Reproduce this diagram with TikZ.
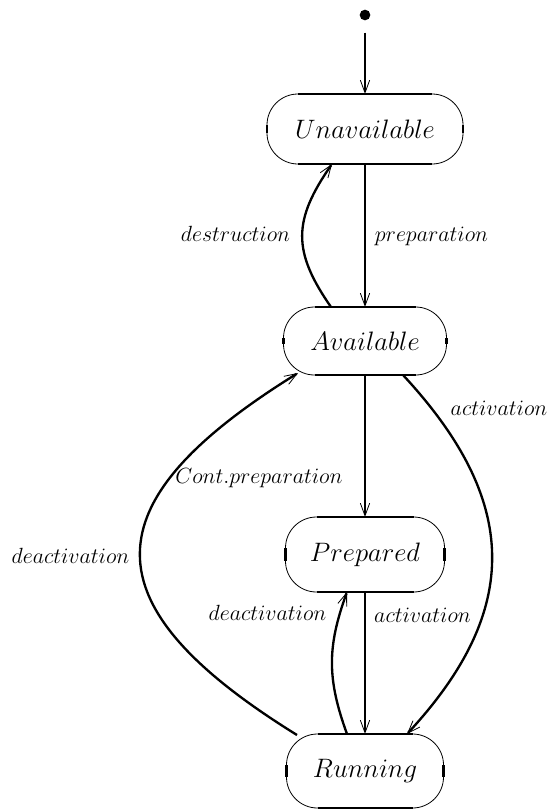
\RequirePackage{fix-cm}
\documentclass[tikz,border=0pt]{standalone}
\usetikzlibrary{arrows.meta,calc}
\begin{document}
\begin{tikzpicture}[x=0.75pt, y=-0.75pt,
  state/.style={draw, line width=0.6pt, rounded corners=23.25pt,
    inner sep=0pt, outer sep=0pt, font=\fontsize{20}{24}\selectfont},
  straightpart/.style={line width=2pt},
  edge/.style={line width=1.75pt,
    -{Straight Barb[length=9.5pt,width=7pt,line width=0.6pt]}},
  lbl/.style={anchor=base, inner sep=0pt, font=\fontsize{16.5}{20}\selectfont}]
\useasboundingbox (0,0) rectangle (552,810);

% initial pseudo-state
\node[circle, fill, inner sep=0pt, minimum size=8pt] (s) at (365,15) {};

% states
\node[state, minimum width=147pt,    minimum height=52.5pt]  (u) at (365,129)   {$Unavailable$};
\node[state, minimum width=122.25pt, minimum height=51pt]    (a) at (365,341)   {$Available$};
\node[state, minimum width=119.25pt, minimum height=56.25pt] (p) at (365,554.5) {$Prepared$};
\node[state, minimum width=117.75pt, minimum height=55.5pt]  (r) at (365,771)   {$Running$};

% heavier straight stretches of each state outline
\foreach \n in {u,a,p,r}{
  \draw[straightpart]
    ($(\n.north west)+(31,0)$) -- ($(\n.north east)+(-31,0)$)
    ($(\n.south west)+(31,0)$) -- ($(\n.south east)+(-31,0)$)
    ($(\n.north west)+(0,31)$) -- ($(\n.south west)+(0,-31)$)
    ($(\n.north east)+(0,31)$) -- ($(\n.south east)+(0,-31)$);
}

% transitions
\draw[edge, shorten <=9pt] (s) -- (u);
\draw[edge] (u) -- (a);
\draw[edge] ($(a.north)+(-34,0)$) .. controls +(-39,-56) and +(-39,56) .. ($(u.south)+(-33,0)$);
\draw[edge] (a) -- (p);
\draw[edge] ($(a.south)+(38,0)$) .. controls +(116,125) and +(116,-125) .. ($(r.north)+(42,0)$);
\draw[edge] ($(r.north)+(-68,1)$) .. controls +(-210,-130) and +(-210,130) .. ($(a.south)+(-67,-2)$);
\draw[edge] (p) -- (r);
\draw[edge] ($(r.north)+(-18,0)$) .. controls +(-20,-55) and +(-20,55) .. ($(p.south)+(-18,0)$);

% transition labels
\node[lbl] (ldes)  at (235.5,241.5) {$destruction$};
\node[lbl] (lprep) at (431.5,241)   {$preparation$};
\node[lbl] (lact1) at (499,415)     {$activation$};
\node[lbl] (lcont) at (259,483)     {$Cont.preparation$};
\node[lbl] (ldea1) at (70.5,563)    {$deactivation$};
\node[lbl] (ldea2) at (267.5,620)   {$deactivation$};
\node[lbl] (lact2) at (422.5,622)   {$activation$};
\end{tikzpicture}
\end{document}
